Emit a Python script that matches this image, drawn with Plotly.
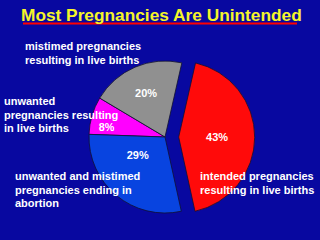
import plotly.graph_objects as go

labels = ["unwanted pregnancies resulting in live births",
          "mistimed pregnancies resulting in live births",
          "intended pregnancies resulting in live births",
          "unwanted and mistimed pregnancies ending in abortion"]
values = [8, 20, 43, 29]
colors = ["#FF00FF", "#909090", "#FF0A0A", "#0844E0"]
pulls = [0, 0, 0.18, 0]

title = "Most Pregnancies Are Unintended"
# callout text lines: (text, left x px, line centre y px)
callout_lines = [
    ("mistimed pregnancies", 25, 45.5),
    ("resulting in live births", 25, 59.5),
    ("unwanted", 4, 101.5),
    ("pregnancies resulting", 4, 115),
    ("in live births", 4, 127.5),
    ("unwanted and mistimed", 15, 176),
    ("pregnancies ending in", 15, 190),
    ("abortion", 15, 202.5),
    ("intended pregnancies", 200, 176),
    ("resulting in live births", 200, 190),
]

BG = "#0808A0"
FONT = "Liberation Sans, Arial, sans-serif"
W, H = 320, 240
NB = "\u00a0"


def px(X):
    return X / W


def py(Y):
    return 1 - Y / H


# per-slice label layout (blank lines nudge the label inside its slice)
templates = [
    NB + "<br><b>%{percent:.0%}</b>",
    "<b>%{percent:.0%}</b>",
    "<b>%{percent:.0%}</b>",
    "<b>%{percent:.0%}</b><br>" + NB + "<br>" + NB,
]

fig = go.Figure()
fig.add_trace(go.Pie(
    labels=labels, values=values, sort=False, direction="clockwise",
    rotation=272, pull=pulls,
    marker=dict(colors=colors, line=dict(color="#101030", width=0.8)),
    texttemplate=templates, textposition="inside",
    insidetextorientation="horizontal",
    textfont=dict(color="white", size=11, family=FONT),
    domain=dict(x=[px(75.3), px(254.7)], y=[py(226.7), py(47.3)]),
    showlegend=False, hoverinfo="label+percent",
))

anns = [dict(text="<b>" + title + "</b>", x=px(161), y=py(14.5),
             xref="paper", yref="paper", showarrow=False,
             font=dict(color="#F5F52A", size=17.3, family=FONT),
             xanchor="center", yanchor="middle")]
for t, x, y in callout_lines:
    anns.append(dict(text="<b>" + t + "</b>", x=px(x - 2), y=py(y),
                     xref="paper", yref="paper", showarrow=False,
                     align="left", xanchor="left", yanchor="middle",
                     font=dict(color="white", size=11, family=FONT)))

fig.update_layout(
    width=W, height=H, margin=dict(l=0, r=0, t=0, b=0),
    paper_bgcolor=BG, plot_bgcolor=BG,
    annotations=anns,
    shapes=[dict(type="line", xref="paper", yref="paper",
                 x0=px(23), x1=px(297), y0=py(23.5), y1=py(23.5),
                 line=dict(color="#FF0000", width=2))],
)
fig.write_html(
    "out.html",
    config={"displayModeBar": False, "staticPlot": True},
    post_script=("document.documentElement.style.margin='0';"
                 "document.body.style.margin='0';"
                 "document.body.style.overflow='hidden';"
                 "document.documentElement.style.background='" + BG + "';"
                 "document.body.style.background='" + BG + "';"),
)
